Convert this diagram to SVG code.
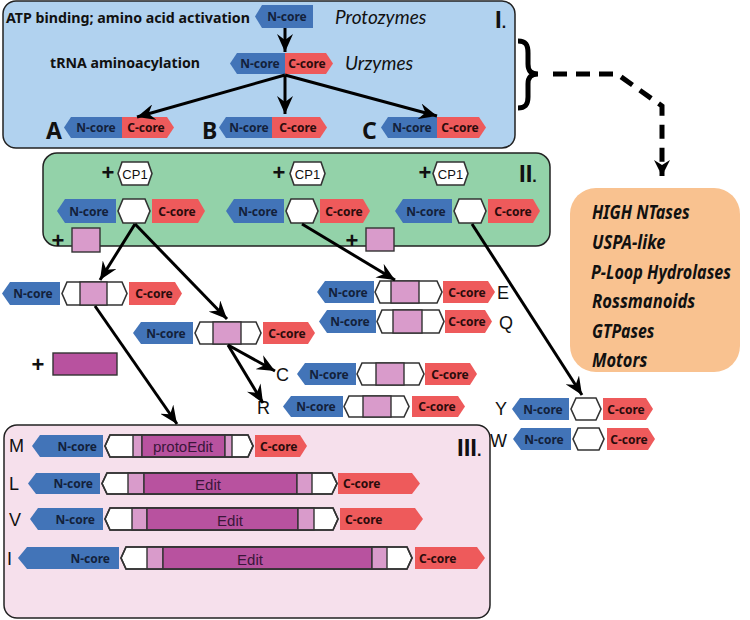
<svg xmlns="http://www.w3.org/2000/svg" width="750" height="620" viewBox="0 0 750 620">
<defs>
<style>
.nc{fill:#4274b8}
.cc{fill:#ee5a5b}
.hx{fill:#fff;stroke:#333;stroke-width:1.6}
.ho{fill:none;stroke:#333;stroke-width:1.6}
.lp{fill:#d99bcb;stroke:#333;stroke-width:1.4}
.mg{fill:#b8529f;stroke:#333;stroke-width:1.4}
.lab{font-family:"Noto Sans","Liberation Sans",sans-serif;font-weight:700;font-size:12px}
.nt{fill:#13213b}
.ct{fill:#2a0c0c}
.big{font-family:"Noto Sans","Liberation Sans",sans-serif;font-weight:700;font-size:23px;fill:#111}
.rom{font-family:"Liberation Sans",Arial,sans-serif;font-weight:700;font-size:24px;fill:#111}
.let{font-family:"Liberation Sans",Arial,sans-serif;font-size:18px;fill:#111}
.plus{font-family:"Liberation Sans",Arial,sans-serif;font-weight:700;font-size:22px;fill:#111;text-anchor:middle}
.cp{font-family:"Liberation Sans",Arial,sans-serif;font-size:13px;fill:#111;text-anchor:middle}
.it{font-family:Lato,"Liberation Sans",sans-serif;font-style:italic;font-size:19px;fill:#111}
.or{font-family:"Noto Sans","Liberation Sans",sans-serif;font-style:italic;font-weight:700;font-size:19px;fill:#111}
.ed{font-family:"Liberation Sans",Arial,sans-serif;font-size:15px;fill:#3a163a;text-anchor:middle}
.hd{font-family:"Noto Sans","Liberation Sans",sans-serif;font-weight:700;fill:#111}
.ln{stroke:#000;stroke-width:3;fill:none;marker-end:url(#ah)}
</style>
<marker id="ah" markerUnits="userSpaceOnUse" markerWidth="20" markerHeight="16" refX="18" refY="8" orient="auto" viewBox="0 0 20 16">
<path d="M0,0 L18,8 L0,16 L6,8 Z" fill="#000"/>
</marker>
<marker id="ahd" markerUnits="userSpaceOnUse" markerWidth="18" markerHeight="18" refX="16" refY="9" orient="auto" viewBox="0 0 18 18">
<path d="M0,1 L16,9 L0,17 L5,9 Z" fill="#000"/>
</marker>
</defs>

<!-- panels -->
<g id="panel-I">
<rect x="3" y="1" width="512" height="147" rx="13" fill="#b1d2ef" stroke="#222" stroke-width="1.5"/>
<text class="rom" x="495" y="28">I<tspan font-size="16">.</tspan></text>
</g>
<g id="panel-II">
<rect x="43" y="153" width="507" height="93" rx="14" fill="#93d2a9" stroke="#222" stroke-width="1.5"/>
<text class="rom" x="519" y="182">II<tspan font-size="16">.</tspan></text>
</g>
<g id="panel-III">
<rect x="4" y="425" width="486" height="193" rx="13" fill="#f6e0ec" stroke="#222" stroke-width="1.5"/>
<text class="rom" x="457" y="456">III<tspan font-size="16">.</tspan></text>
</g>
<g id="panel-orange">
<rect x="570" y="188" width="170" height="184" rx="26" fill="#f9c290"/>
<text class="or" transform="translate(592,219) scale(0.8,1)" textLength="122" lengthAdjust="spacingAndGlyphs">HIGH NTases</text>
<text class="or" transform="translate(592,249) scale(0.8,1)" textLength="92" lengthAdjust="spacingAndGlyphs">USPA-like</text>
<text class="or" transform="translate(591,279) scale(0.8,1)" textLength="175" lengthAdjust="spacingAndGlyphs">P-Loop Hydrolases</text>
<text class="or" transform="translate(592,308) scale(0.8,1)" textLength="129" lengthAdjust="spacingAndGlyphs">Rossmanoids</text>
<text class="or" transform="translate(592,338) scale(0.8,1)" textLength="78" lengthAdjust="spacingAndGlyphs">GTPases</text>
<text class="or" transform="translate(592,367) scale(0.8,1)" textLength="69" lengthAdjust="spacingAndGlyphs">Motors</text>
</g>

<!-- panel I nodes -->
<g id="protozyme">
<text class="hd" x="6" y="23" font-size="14" textLength="244" lengthAdjust="spacingAndGlyphs">ATP binding; amino acid activation</text>
<polygon class="nc" points="255,16.5 262,5 313,5 313,28 262,28"/>
<text class="lab nt" x="287" y="21" text-anchor="middle">N-core</text>
<text class="it" x="335" y="24">Protozymes</text>
</g>
<g id="urzyme">
<text class="hd" x="50" y="68" font-size="13.5" textLength="150" lengthAdjust="spacingAndGlyphs">tRNA aminoacylation</text>
<polygon class="nc" points="230,63.5 237,53 285,53 285,74 237,74"/>
<polygon class="cc" points="285,53 326,53 333,63.5 326,74 285,74"/>
<text class="lab nt" x="260" y="68" text-anchor="middle">N-core</text>
<text class="lab ct" x="307" y="68" text-anchor="middle">C-core</text>
<text class="it" x="345" y="70">Urzymes</text>
</g>
<g id="class-A">
<text class="big" x="46" y="139">A</text>
<polygon class="nc" points="64,127.5 71,117 122,117 122,138 71,138"/>
<polygon class="cc" points="122,117 167,117 174,127.5 167,138 122,138"/>
<text class="lab nt" x="96" y="132" text-anchor="middle">N-core</text>
<text class="lab ct" x="146" y="132" text-anchor="middle">C-core</text>
</g>
<g id="class-B">
<text class="big" x="202" y="139">B</text>
<polygon class="nc" points="219,127.5 226,117 272,117 272,138 226,138"/>
<polygon class="cc" points="272,117 320,117 327,127.5 320,138 272,138"/>
<text class="lab nt" x="249" y="132" text-anchor="middle">N-core</text>
<text class="lab ct" x="298" y="132" text-anchor="middle">C-core</text>
</g>
<g id="class-C">
<text class="big" x="362" y="139">C</text>
<polygon class="nc" points="381,127.5 388,117 437,117 437,138 388,138"/>
<polygon class="cc" points="437,117 479,117 486,127.5 479,138 437,138"/>
<text class="lab nt" x="412" y="132" text-anchor="middle">N-core</text>
<text class="lab ct" x="460" y="132" text-anchor="middle">C-core</text>
</g>

<!-- panel II nodes -->
<g id="cp1-col1">
<text class="plus" x="108" y="180">+</text>
<polygon class="hx" points="118,173.5 122,162 148,162 152,173.5 148,185 122,185"/>
<text class="cp" x="135" y="178.5">CP1</text>
<polygon class="nc" points="57,211 65,199 116,199 116,223 65,223"/>
<text class="lab nt" x="89" y="215.5" text-anchor="middle">N-core</text>
<polygon class="hx" points="118,211 123,199 145,199 150,211 145,223 123,223"/>
<polygon class="cc" points="152,199 198,199 205,211 198,223 152,223"/>
<text class="lab ct" x="177" y="215.5" text-anchor="middle">C-core</text>
</g>
<g id="cp1-col2">
<text class="plus" x="279" y="180">+</text>
<polygon class="hx" points="290,173.5 294,162 321,162 325,173.5 321,185 294,185"/>
<text class="cp" x="307.5" y="178.5">CP1</text>
<polygon class="nc" points="226,211 234,199 284,199 284,223 234,223"/>
<text class="lab nt" x="258" y="215.5" text-anchor="middle">N-core</text>
<polygon class="hx" points="286,211 291,199 313,199 318,211 313,223 291,223"/>
<polygon class="cc" points="320,199 363,199 370,211 363,223 320,223"/>
<text class="lab ct" x="344" y="215.5" text-anchor="middle">C-core</text>
</g>
<g id="cp1-col3">
<text class="plus" x="425" y="180">+</text>
<polygon class="hx" points="433,173.5 437,162 464,162 468,173.5 464,185 437,185"/>
<text class="cp" x="450.5" y="178.5">CP1</text>
<polygon class="nc" points="395,211 403,199 452,199 452,223 403,223"/>
<text class="lab nt" x="426" y="215.5" text-anchor="middle">N-core</text>
<polygon class="hx" points="454,211 459,199 481,199 486,211 481,223 459,223"/>
<polygon class="cc" points="488,199 533,199 540,211 533,223 488,223"/>
<text class="lab ct" x="513" y="215.5" text-anchor="middle">C-core</text>
</g>
<g id="insert-1">
<text class="plus" x="58" y="248">+</text>
<rect class="lp" x="72" y="228" width="28" height="24"/>
</g>
<g id="insert-2">
<text class="plus" x="352" y="248">+</text>
<rect class="lp" x="366" y="228" width="28" height="23"/>
</g>
<g id="insert-3">
<text class="plus" x="38" y="372">+</text>
<rect class="mg" x="53" y="353" width="64" height="22"/>
</g>

<!-- intermediates -->
<g id="inter-1">
<polygon class="nc" points="2,293.5 10,282 60,282 60,305 10,305"/>
<text class="lab nt" x="33" y="298" text-anchor="middle">N-core</text>
<polygon class="hx" points="62,293.5 67,282 122,282 127,293.5 122,305 67,305"/>
<rect class="lp" x="80" y="282" width="27" height="23"/>
<polygon class="cc" points="129,282 175,282 182,293.5 175,305 129,305"/>
<text class="lab ct" x="154" y="298" text-anchor="middle">C-core</text>
</g>
<g id="inter-2">
<polygon class="nc" points="133,333 141,322 193,322 193,344 141,344"/>
<text class="lab nt" x="166" y="338" text-anchor="middle">N-core</text>
<polygon class="hx" points="195,333 200,322 256,322 261,333 256,344 200,344"/>
<rect class="lp" x="213" y="322" width="28" height="22"/>
<polygon class="cc" points="263,322 308,322 315,333 308,344 263,344"/>
<text class="lab ct" x="287" y="338" text-anchor="middle">C-core</text>
</g>
<g id="aaRS-E">
<polygon class="nc" points="317,292 325,281 374,281 374,303 325,303"/>
<text class="lab nt" x="348" y="296.5" text-anchor="middle">N-core</text>
<polygon class="hx" points="375,292 380,281 437,281 442,292 437,303 380,303"/>
<rect class="lp" x="391" y="281" width="28" height="22"/>
<polygon class="cc" points="443,281 488,281 495,292 488,303 443,303"/>
<text class="lab ct" x="467" y="296.5" text-anchor="middle">C-core</text>
<text class="let" x="497" y="299">E</text>
</g>
<g id="aaRS-Q">
<polygon class="nc" points="319,321.5 327,310 376,310 376,333 327,333"/>
<text class="lab nt" x="350" y="326" text-anchor="middle">N-core</text>
<polygon class="hx" points="377,321.5 382,310 439,310 444,321.5 439,333 382,333"/>
<rect class="lp" x="393" y="310" width="29" height="23"/>
<polygon class="cc" points="445,310 485,310 492,321.5 485,333 445,333"/>
<text class="lab ct" x="467" y="326" text-anchor="middle">C-core</text>
<text class="let" x="499" y="329">Q</text>
</g>
<g id="aaRS-C">
<text class="let" x="276" y="381">C</text>
<polygon class="nc" points="297,374 305,363 356,363 356,385 305,385"/>
<text class="lab nt" x="329" y="378.5" text-anchor="middle">N-core</text>
<polygon class="hx" points="357,374 362,363 419,363 424,374 419,385 362,385"/>
<rect class="lp" x="376" y="363" width="28" height="22"/>
<polygon class="cc" points="425,363 470,363 477,374 470,385 425,385"/>
<text class="lab ct" x="450" y="378.5" text-anchor="middle">C-core</text>
</g>
<g id="aaRS-R">
<text class="let" x="257" y="414">R</text>
<polygon class="nc" points="283,406.5 291,396 343,396 343,417 291,417"/>
<text class="lab nt" x="316" y="411" text-anchor="middle">N-core</text>
<polygon class="hx" points="344,406.5 349,396 404,396 409,406.5 404,417 349,417"/>
<rect class="lp" x="363" y="396" width="28" height="21"/>
<polygon class="cc" points="412,396 458,396 465,406.5 458,417 412,417"/>
<text class="lab ct" x="437" y="411" text-anchor="middle">C-core</text>
</g>
<g id="aaRS-Y">
<text class="let" x="495" y="415">Y</text>
<polygon class="nc" points="512,409 520,398 569,398 569,420 520,420"/>
<text class="lab nt" x="543" y="413.5" text-anchor="middle">N-core</text>
<polygon class="hx" points="571,409 576,398 596,398 601,409 596,420 576,420"/>
<polygon class="cc" points="603,398 646,398 653,409 646,420 603,420"/>
<text class="lab ct" x="626" y="413.5" text-anchor="middle">C-core</text>
</g>
<g id="aaRS-W">
<text class="let" x="490" y="447">W</text>
<polygon class="nc" points="513,439 521,428 571,428 571,450 521,450"/>
<text class="lab nt" x="544" y="443.5" text-anchor="middle">N-core</text>
<polygon class="hx" points="573,439 578,428 599,428 604,439 599,450 578,450"/>
<polygon class="cc" points="607,428 648,428 655,439 648,450 607,450"/>
<text class="lab ct" x="629" y="443.5" text-anchor="middle">C-core</text>
</g>

<!-- panel III rows -->
<g id="aaRS-M">
<text class="let" x="9" y="452">M</text>
<polygon class="nc" points="32,446 40,435 103,435 103,457 40,457"/>
<text class="lab nt" x="97" y="450.5" text-anchor="end">N-core</text>
<polygon class="hx" points="105,446 110,435 248,435 253,446 248,457 110,457"/>
<rect class="lp" x="133" y="435" width="9" height="22"/>
<rect class="mg" x="142" y="435" width="83" height="22"/>
<rect class="lp" x="225" y="435" width="7" height="22"/>
<polygon class="ho" points="105,446 110,435 248,435 253,446 248,457 110,457"/>
<text class="ed" x="183" y="451.5">protoEdit</text>
<polygon class="cc" points="255,435 300,435 307,446 300,457 255,457"/>
<text class="lab ct" x="260" y="450.5">C-core</text>
</g>
<g id="aaRS-L">
<text class="let" x="9" y="490">L</text>
<polygon class="nc" points="28,483.5 36,473 100,473 100,494 36,494"/>
<text class="lab nt" x="93" y="488" text-anchor="end">N-core</text>
<polygon class="hx" points="102,483.5 107,473 332,473 337,483.5 332,494 107,494"/>
<rect class="lp" x="128" y="473" width="16" height="21"/>
<rect class="mg" x="144" y="473" width="153" height="21"/>
<rect class="lp" x="297" y="473" width="15" height="21"/>
<polygon class="ho" points="102,483.5 107,473 332,473 337,483.5 332,494 107,494"/>
<text class="ed" x="208" y="490">Edit</text>
<polygon class="cc" points="338,473 412,473 420,483.5 412,494 338,494"/>
<text class="lab ct" x="343" y="488">C-core</text>
</g>
<g id="aaRS-V">
<text class="let" x="9" y="526">V</text>
<polygon class="nc" points="30,519 38,508 103,508 103,530 38,530"/>
<text class="lab nt" x="95" y="523.5" text-anchor="end">N-core</text>
<polygon class="hx" points="105,519 110,508 333,508 338,519 333,530 110,530"/>
<rect class="lp" x="132" y="508" width="15" height="22"/>
<rect class="mg" x="147" y="508" width="151" height="22"/>
<rect class="lp" x="298" y="508" width="16" height="22"/>
<polygon class="ho" points="105,519 110,508 333,508 338,519 333,530 110,530"/>
<text class="ed" x="230" y="525.5">Edit</text>
<polygon class="cc" points="340,508 415,508 423,519 415,530 340,530"/>
<text class="lab ct" x="345" y="523.5">C-core</text>
</g>
<g id="aaRS-I">
<text class="let" x="7" y="565">I</text>
<polygon class="nc" points="18,558 27,547 119,547 119,569 27,569"/>
<text class="lab nt" x="110" y="562.5" text-anchor="end">N-core</text>
<polygon class="hx" points="121,558 126,547 407,547 412,558 407,569 126,569"/>
<rect class="lp" x="147" y="547" width="16" height="22"/>
<rect class="mg" x="163" y="547" width="209" height="22"/>
<rect class="lp" x="372" y="547" width="15" height="22"/>
<polygon class="ho" points="121,558 126,547 407,547 412,558 407,569 126,569"/>
<text class="ed" x="250" y="564.5">Edit</text>
<polygon class="cc" points="415,547 477,547 485,558 477,569 415,569"/>
<text class="lab ct" x="419" y="562.5">C-core</text>
</g>

<!-- connectors -->
<g id="connectors">
<line class="ln" x1="285" y1="28" x2="285" y2="52"/>
<line class="ln" x1="285" y1="75" x2="137" y2="117"/>
<line class="ln" x1="285" y1="75" x2="285" y2="114"/>
<line class="ln" x1="285" y1="75" x2="437" y2="116"/>
<line class="ln" x1="135" y1="224" x2="100" y2="280"/>
<line class="ln" x1="135" y1="224" x2="227" y2="319"/>
<line class="ln" x1="302" y1="224" x2="395" y2="280"/>
<line class="ln" x1="472" y1="224" x2="582" y2="395"/>
<line class="ln" x1="95" y1="306" x2="177" y2="424"/>
<line class="ln" x1="228" y1="345" x2="275" y2="371"/>
<line class="ln" x1="228" y1="345" x2="263" y2="403"/>
<path d="M518,41 C526,41 528,45 528,53 L528,64 C528,71 531,74 538,74 C531,74 528,77 528,84 L528,97 C528,104 526,108 518,108" fill="none" stroke="#000" stroke-width="5"/>
<path d="M553,74 L617,74 L662,106 L662,176" fill="none" stroke="#000" stroke-width="5" stroke-dasharray="14,9" marker-end="url(#ahd)"/>
</g>
</svg>
